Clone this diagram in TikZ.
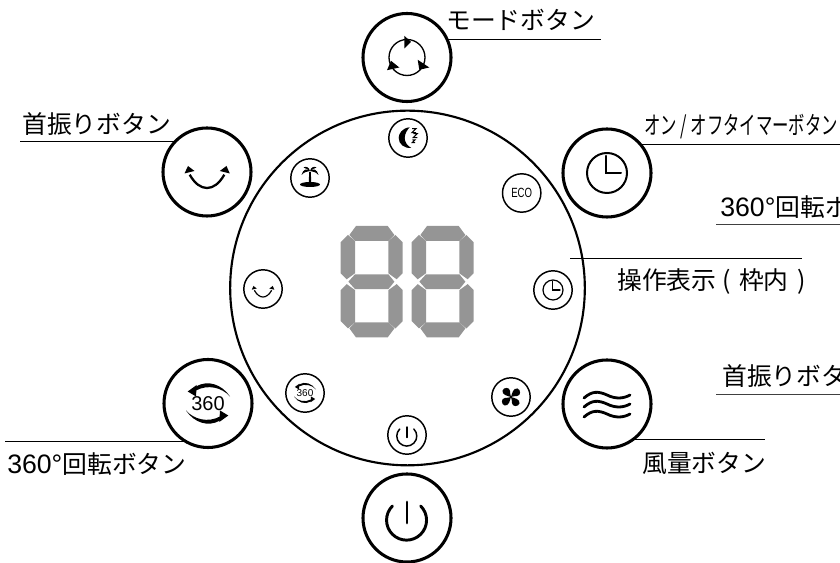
\documentclass[tikz,border=0pt]{standalone}
\usepackage{fontspec}
\setmainfont{Noto Sans CJK JP}
\newfontfamily\numfont{Liberation Sans}
\usepackage{xcolor}
\definecolor{seggray}{HTML}{959595}
\newcommand{\numpart}{\numfont\fontsize{20}{20}\selectfont 360°}

\tikzset{
 bigbtn/.style={circle,draw,line width=2.3pt,minimum size=66pt,inner sep=0pt,outer sep=0pt},
 smallbtn/.style={circle,draw,line width=1.1pt,minimum size=28.8pt,inner sep=0pt,outer sep=0pt},
 leader/.style={line width=0.75pt},
 tag/.style={anchor=base west,inner sep=0pt,font=\fontsize{18.6}{20}\selectfont},
 digit/.pic={
  \fill[seggray] (-23.3,0) -- (-16.7,7.4) -- (16.7,7.4) -- (22.7,0) -- (16.7,-7.4) -- (-16.7,-7.4) -- cycle;
  \foreach \sy in {1,-1}{
   \fill[seggray,yscale=\sy] (-22.3,-46.7) -- (-16.7,-40.7) -- (16.7,-40.7) -- (22.7,-46.7) -- (16,-55.7) -- (-15.7,-55.7) -- cycle;
   \foreach \sx in {1,-1}
    \fill[seggray,xscale=\sx,yscale=\sy] (-31,-8.4) -- (-25,-2.4) -- (-16.7,-8.4) -- (-16.7,-40.7) -- (-23.7,-46.7) -- (-31,-39.4) -- cycle;
  }
 },
 clockicon/.pic={
  \draw (0,0) circle (20);
  \draw[line cap=round] (-1,17) -- (-1,0) -- (14,0);
 },
 powericon/.pic={
  \draw[line cap=round] (13.7,12) arc (45:-225:20);
  \draw[line cap=round] (0,16) -- (0,-5);
 },
 swingicon/.pic={
  \draw (-17.3,-2.7) .. controls (-12,-12) and (-6,-16) .. (0,-16) .. controls (6,-16) and (12,-12) .. (17.3,-2.7);
  \fill (-19,6) -- (-22.5,-1.5) -- (-12.5,1) -- cycle;
  \fill (19.5,6) -- (22.8,-1.5) -- (12.8,1) -- cycle;
 },
 spinicon/.pic={
  \node[transform shape,inner sep=0pt,font=\numfont\fontsize{15}{15}\selectfont] (spintext) at (0,0) {360};
  \foreach \turn in {0,180}{
   \fill[rotate=\turn] (22,7) .. controls (14,19) and (0,24) .. (-12,17) -- (-12,13) .. controls (0,19.5) and (14,16) .. cycle;
   \fill[rotate=\turn] (-20.3,12) -- (-11.3,18.5) -- (-12,7) -- cycle;
  }
 },
}

\begin{document}
\begin{tikzpicture}[x=0.75pt,y=0.75pt]
\useasboundingbox (0,0) rectangle (840,563);

\node[circle,draw,line width=1.6pt,minimum size=266pt,inner sep=0pt,outer sep=0pt] (panel) at (407.5,275) {};

% buttons round the panel
\foreach \x/\y/\name in {407/505.5/mode,607/390/timer,207/391/swing,208/159.5/spin,607/159/wind,407/45/power}{
 \node[bigbtn] (\name) at (\x,\y) {};
 }
\foreach \x/\y/\name in {408/425/smoon,521.7/370/seco,553/273/sclock,511/166/sfan,407/128/spower,305/170/sspin,263/274/sswing,310/385/spalm}{
 \node[smallbtn] (\name) at (\x,\y) {};
 }

% display
\pic at (371.7,281.3) {digit};
\pic at (442.7,281.3) {digit};

% big icons
\begin{scope}[line width=1.5pt]
 \pic at (timer) {clockicon};
\end{scope}
\begin{scope}[line width=2.2pt]
 \pic at (power) {powericon};
\end{scope}
\begin{scope}[line width=1.7pt]
 \pic at (swing) {swingicon};
\end{scope}
\pic at (spin) {spinicon};
\begin{scope}[shift={(mode)}]
 \draw[line width=1pt] (0,0) circle (18);
 \fill (4,15.7) -- (-2.7,21.7) -- (-2.7,9) -- cycle;
 \fill (22.3,-10) -- (10.7,-2.3) -- (12.3,-12.3) -- cycle;
 \fill (-20,-12.7) -- (-16,-3.3) -- (-7.7,-10) -- cycle;
\end{scope}
\begin{scope}[shift={(wind)}]
 \foreach \dy in {0,-9,-19}
  \draw[line width=2.1pt,line cap=round,yshift=\dy*0.75pt] (-23,6) .. controls (-15,13) and (-9,13) .. (0,9) .. controls (8,5) and (16,5) .. (23,9);
\end{scope}

% small icons
\begin{scope}[line width=0.9pt]
 \pic[scale=0.5] at (sclock) {clockicon};
 \pic[scale=0.5] at (sswing) {swingicon};
\end{scope}
\begin{scope}[line width=1.1pt]
 \pic[scale=0.5] at (spower) {powericon};
\end{scope}
\pic[scale=0.5] at (sspin) {spinicon};
\node[inner sep=0pt,xscale=0.72,font=\numfont\fontsize{10}{10}\selectfont] (ecotext) at (seco) {ECO};
\begin{scope}[shift={(smoon)}]
 \fill (1.7,10.7) .. controls (-6,10) and (-9.5,4) .. (-9.3,0) .. controls (-9.3,-6) and (-4,-10.5) .. (3.3,-10) .. controls (-1,-7.5) and (-3.3,-4) .. (-3.3,0) .. controls (-3.3,4) and (-1,8) .. cycle;
 \foreach \x/\y/\s in {6/7.3/1,7.3/2.3/1,5.7/-3.3/0.7}
  \draw[line width=0.8pt,shift={(\x,\y)},scale=\s] (-2,2) -- (2,2) -- (-2,-2) -- (2,-2);
\end{scope}
\begin{scope}[shift={(spalm)}]
 \fill (0,-6.5) ellipse (10 and 2.5);
 \fill (-1.3,-6) -- (-0.8,6) -- (0.8,6) -- (1.3,-6) -- cycle;
 \foreach \sx in {1,-1}{
  \fill[xscale=\sx] (0,7) .. controls (3,10) and (7,9) .. (8.5,3) .. controls (6,6) and (3,6.5) .. cycle;
  \fill[xscale=\sx] (0,7) .. controls (1,11) and (4,12) .. (6.5,10.5) .. controls (4,9.5) and (2,8.5) .. cycle;
 }
\end{scope}
\begin{scope}[shift={(sfan)}]
 \foreach \turn in {0,90,180,270}
  \fill[rotate=\turn] (0,0) .. controls (-3,1) and (-9.5,2) .. (-8.5,6.5) .. controls (-7.5,10) and (-1,10) .. (-1,6) .. controls (-1,3.5) and (-0.5,2) .. cycle;
\end{scope}

% leaders and labels
\coordinate (modeend) at (601,0);
\coordinate (timerend) at (840,0);
\coordinate (swingend) at (20,0);
\coordinate (spinend) at (5,0);
\coordinate (windend) at (765,0);
\coordinate (panelstart) at (570,304);
\coordinate (panelend) at (802,304);
\coordinate (rspinstart) at (716,338);
\coordinate (rspinend) at (840,338);
\coordinate (rswingstart) at (716,168);
\coordinate (rswingend) at (840,168);

\draw[leader] (mode.24) -- (mode.24 -| modeend);
\draw[leader] (timer.40) -- (timer.40 -| timerend);
\draw[leader] (swing.137) -- (swing.137 -| swingend);
\draw[leader] (spin.239) -- (spin.239 -| spinend);
\draw[leader] (wind.-53) -- (wind.-53 -| windend);
\draw[leader] (panelstart) -- (panelend);
\draw[leader,black!75] (rspinstart) -- (rspinend);
\draw[leader,black!75] (rswingstart) -- (rswingend);

\node[tag] (modetag) at (446,533) {モードボタン};
\node[tag,xscale=0.66] (timertag) at (644,428) {オン / オフタイマーボタン};
\node[tag] (rspintag) at (720,346) {{\numpart}回転ボ};
\node[tag] (paneltag) at (617,273) {操作表示 (\hspace{0.35em}枠内\hspace{0.35em})};
\node[tag] (rswingtag) at (722,177) {首振りボタ};
\node[tag] (windtag) at (642,90) {風量ボタン};
\node[tag] (spintag) at (7,89) {{\numpart}回転ボタン};
\node[tag] (swingtag) at (22,429) {首振りボタン};

\end{tikzpicture}
\end{document}
